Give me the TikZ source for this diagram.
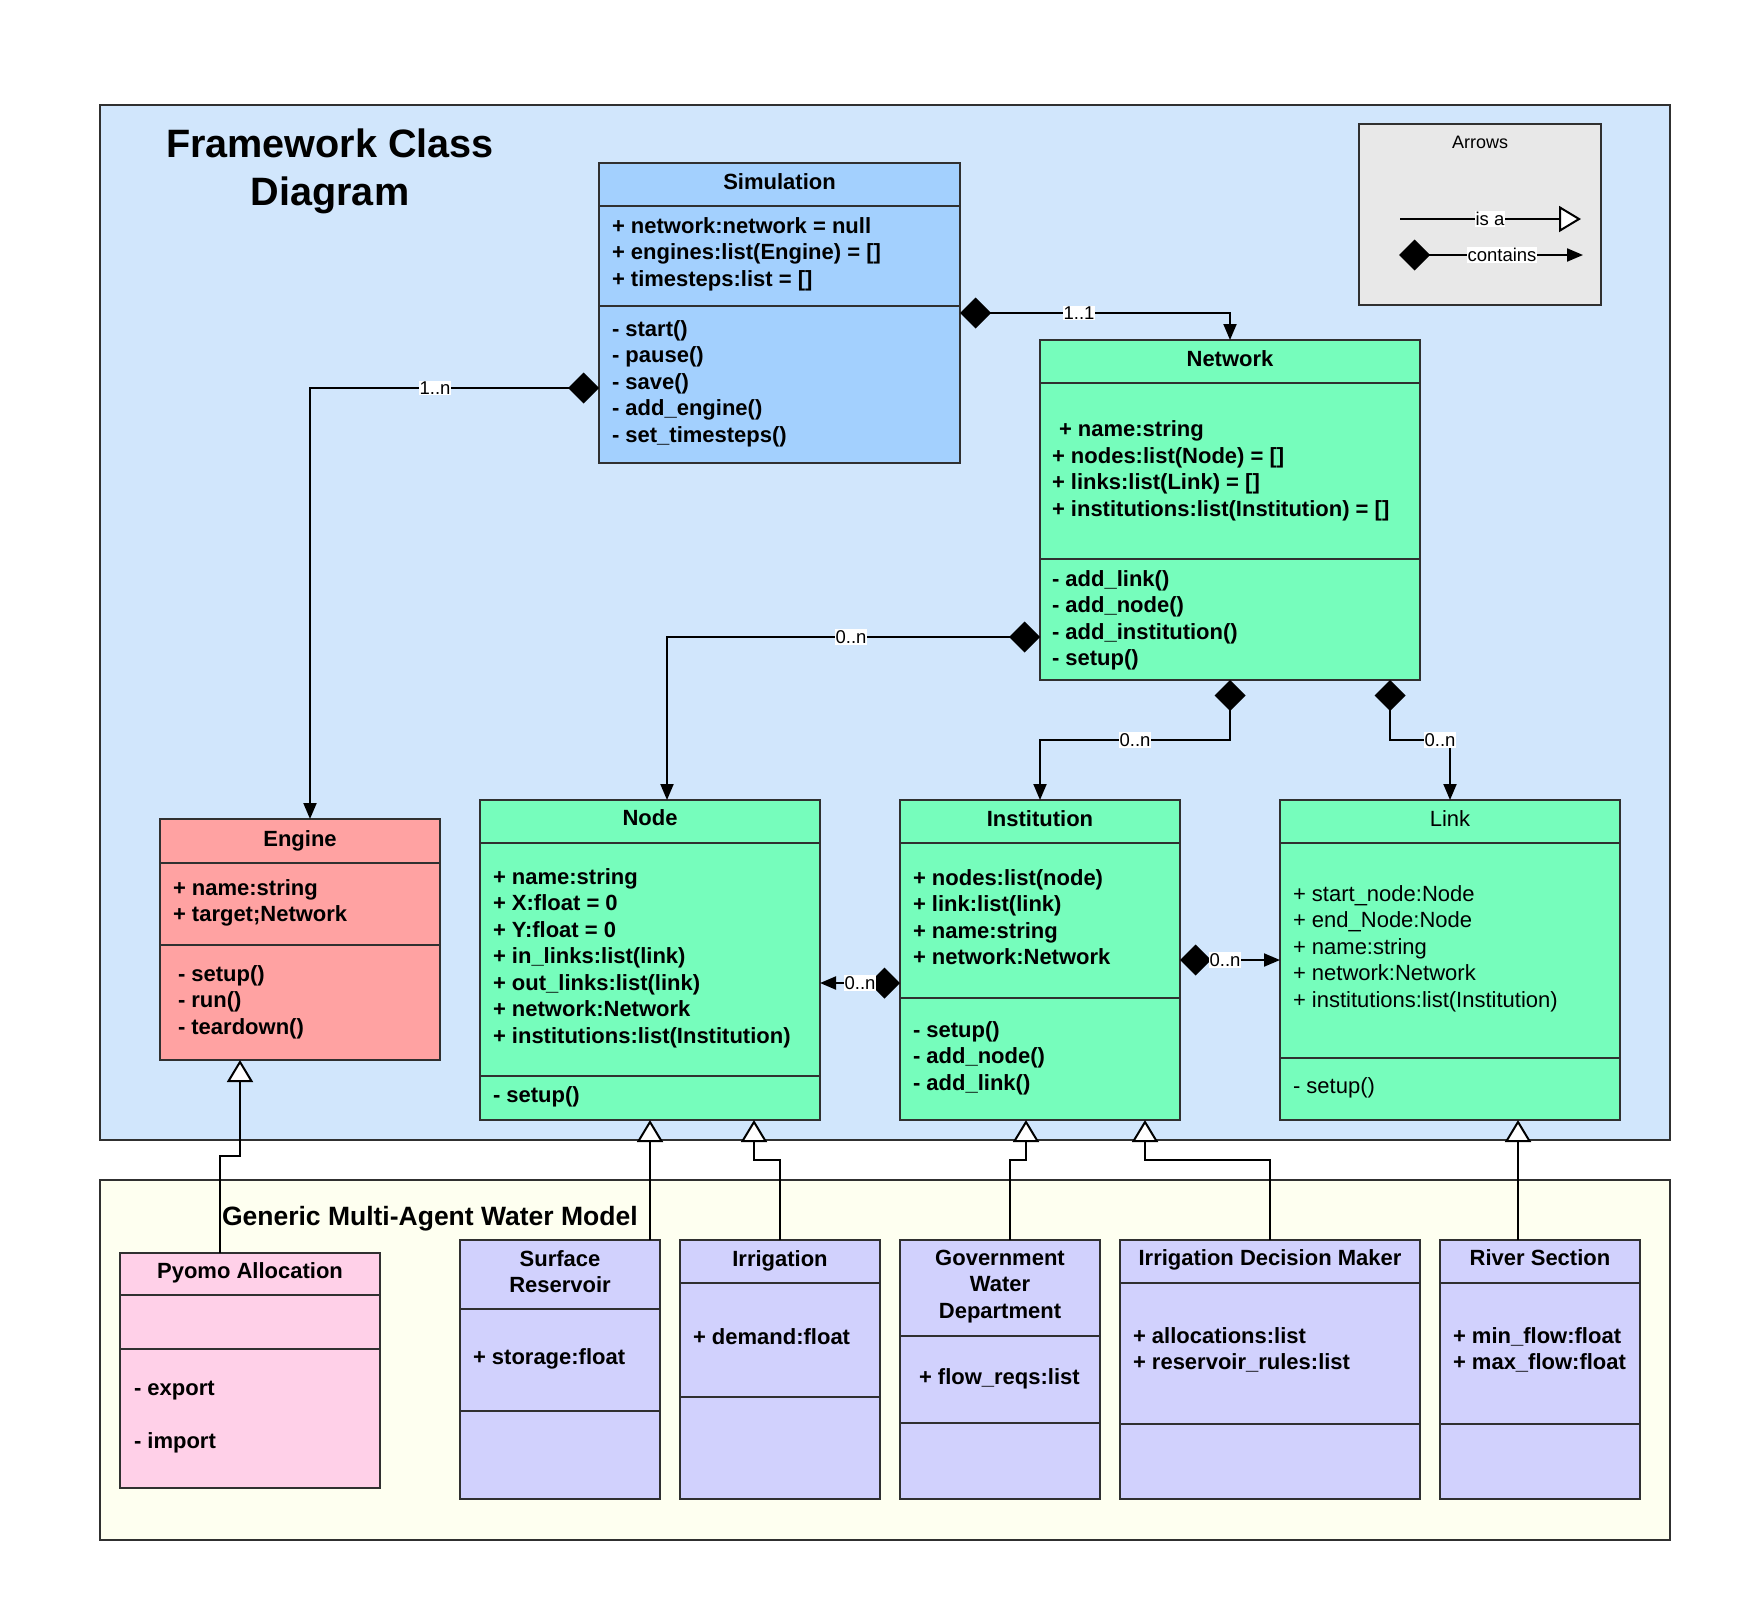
\documentclass[tikz,border=0pt]{standalone}
\usepackage{fontspec}
\setmainfont{Liberation Sans}
\usetikzlibrary{arrows.meta}
\definecolor{bluebg}{HTML}{D1E6FC}
\definecolor{yelbg}{HTML}{FEFFF0}
\definecolor{simc}{HTML}{A3D0FE}
\definecolor{grn}{HTML}{76FDBC}
\definecolor{engc}{HTML}{FFA2A2}
\definecolor{pyoc}{HTML}{FFD0E8}
\definecolor{subc}{HTML}{D1D1FD}
\definecolor{legc}{HTML}{E8E8E8}
\definecolor{bd}{HTML}{303030}
\newcommand\tlines[5]{%
  \foreach \t [count=\i] in {#5}
    \node[#2, anchor=base west] (#1-\i) at (#3, {#4+26.5*(\i-1)}) {\t};}
\newcommand\clines[5]{%
  \foreach \t [count=\i] in {#5}
    \node[#2, anchor=base] (#1-\i) at (#3, {#4+26.5*(\i-1)}) {\t};}
\begin{document}
\begin{tikzpicture}[x=1pt,y=-1pt,
  box/.style={draw=bd, line width=2.5pt, anchor=north west, inner sep=0pt, outer sep=0pt},
  sep/.style={draw=bd, line width=2.5pt},
  txt/.style={inner sep=0pt, outer sep=0pt, font=\fontsize{22}{27}\selectfont\bfseries},
  rtxt/.style={inner sep=0pt, outer sep=0pt, font=\fontsize{22}{27}\selectfont},
  lbl/.style={fill=white, inner sep=1pt, font=\fontsize{18.5}{20}\selectfont},
  conn/.style={line width=2pt, draw=black},
  comp/.style={conn, {Diamond[length=31pt,width=31pt]}-{Triangle[length=16pt,width=13pt]}},
  isa/.style={conn, -{Triangle[length=22pt,width=26pt,fill=white]}},
]
\useasboundingbox (0,0) rectangle (1760,1620);
\fill[white] (0,0) rectangle (1760,1620);

% containers
\node[box, fill=bluebg, minimum width=1570pt, minimum height=1035pt] (frame) at (100,105) {};
\node[box, fill=yelbg, minimum width=1570pt, minimum height=360pt] (model) at (100,1180) {};

% titles
\node[txt, font=\fontsize{39.6}{48}\selectfont\bfseries, anchor=base] (title-a) at (330,157) {Framework Class};
\node[txt, font=\fontsize{39.6}{48}\selectfont\bfseries, anchor=base] (title-b) at (330,205) {Diagram};
\node[txt, font=\fontsize{26.5}{30}\selectfont\bfseries, anchor=base west] (gtitle) at (222,1225) {Generic Multi-Agent Water Model};

% legend
\node[box, fill=legc, minimum width=242pt, minimum height=181pt] (leg) at (1359,124) {};
\node[inner sep=0pt, font=\fontsize{18}{20}\selectfont, anchor=base] (legt) at (1480,148) {Arrows};

% Simulation
\node[box, fill=simc, minimum width=361pt, minimum height=300pt] (sim) at (599,163) {};
\draw[sep] (599,206) -- (960,206);
\draw[sep] (599,306) -- (960,306);
\node[txt, anchor=base] (sim-h) at (779.5,189) {Simulation};
\tlines{sima}{txt}{612}{233}{{+ network:network = null},{+ engines:list(Engine) = []},{+ timesteps:list = []}}
\tlines{simm}{txt}{612}{336}{{- start()},{- pause()},{- save()},{- add\_engine()},{- set\_timesteps()}}

% Network
\node[box, fill=grn, minimum width=380pt, minimum height=340pt] (net) at (1040,340) {};
\draw[sep] (1040,383) -- (1420,383);
\draw[sep] (1040,559) -- (1420,559);
\node[txt, anchor=base] (net-h) at (1230,366) {Network};
\node[txt, anchor=base west] (neta-0) at (1059,436) {+ name:string};
\tlines{neta}{txt}{1052}{463}{{+ nodes:list(Node) = []},{+ links:list(Link) = []},{+ institutions:list(Institution) = []}}
\tlines{netm}{txt}{1052}{586}{{- add\_link()},{- add\_node()},{- add\_institution()},{- setup()}}

% Engine
\node[box, fill=engc, minimum width=280pt, minimum height=241pt] (eng) at (160,819) {};
\draw[sep] (160,863) -- (440,863);
\draw[sep] (160,945) -- (440,945);
\node[txt, anchor=base] (eng-h) at (300,846) {Engine};
\tlines{enga}{txt}{173}{895}{{+ name:string},{+ target;Network}}
\tlines{engm}{txt}{178}{981}{{- setup()},{- run()},{- teardown()}}

% Node
\node[box, fill=grn, minimum width=340pt, minimum height=320pt] (node) at (480,800) {};
\draw[sep] (480,843) -- (820,843);
\draw[sep] (480,1076) -- (820,1076);
\node[txt, anchor=base] (node-h) at (650,825) {Node};
\tlines{nodea}{txt}{493}{884}{{+ name:string},{+ X:float = 0},{+ Y:float = 0},{+ in\_links:list(link)},{+ out\_links:list(link)},{+ network:Network},{+ institutions:list(Institution)}}
\node[txt, anchor=base west] (nodem-1) at (493,1102) {- setup()};

% Institution
\node[box, fill=grn, minimum width=280pt, minimum height=320pt] (inst) at (900,800) {};
\draw[sep] (900,843) -- (1180,843);
\draw[sep] (900,998) -- (1180,998);
\node[txt, anchor=base] (inst-h) at (1040,826) {Institution};
\tlines{insta}{txt}{913}{885}{{+ nodes:list(node)},{+ link:list(link)},{+ name:string},{+ network:Network}}
\tlines{instm}{txt}{913}{1037}{{- setup()},{- add\_node()},{- add\_link()}}

% Link
\node[box, fill=grn, minimum width=340pt, minimum height=320pt] (link) at (1280,800) {};
\draw[sep] (1280,843) -- (1620,843);
\draw[sep] (1280,1058) -- (1620,1058);
\node[rtxt, anchor=base] (link-h) at (1450,826) {Link};
\tlines{linka}{rtxt}{1293}{901}{{+ start\_node:Node},{+ end\_Node:Node},{+ name:string},{+ network:Network},{+ institutions:list(Institution)}}
\node[rtxt, anchor=base west] (linkm-1) at (1293,1093) {- setup()};

% Pyomo Allocation
\node[box, fill=pyoc, minimum width=260pt, minimum height=235pt] (pyo) at (120,1253) {};
\draw[sep] (120,1295) -- (380,1295);
\draw[sep] (120,1349) -- (380,1349);
\node[txt, anchor=base] (pyo-h) at (250,1278) {Pyomo Allocation};
\node[txt, anchor=base west] (pyom-1) at (134,1395) {- export};
\node[txt, anchor=base west] (pyom-2) at (134,1448) {- import};

% Surface Reservoir
\node[box, fill=subc, minimum width=200pt, minimum height=259pt] (sr) at (460,1240) {};
\draw[sep] (460,1309) -- (660,1309);
\draw[sep] (460,1411) -- (660,1411);
\clines{srh}{txt}{560}{1266}{{Surface},{Reservoir}}
\node[txt, anchor=base west] (sra-1) at (473,1364) {+ storage:float};

% Irrigation
\node[box, fill=subc, minimum width=200pt, minimum height=259pt] (irr) at (680,1240) {};
\draw[sep] (680,1283) -- (880,1283);
\draw[sep] (680,1397) -- (880,1397);
\node[txt, anchor=base] (irr-h) at (780,1266) {Irrigation};
\node[txt, anchor=base west] (irra-1) at (693,1344) {+ demand:float};

% Government Water Department
\node[box, fill=subc, minimum width=200pt, minimum height=259pt] (gov) at (900,1240) {};
\draw[sep] (900,1336) -- (1100,1336);
\draw[sep] (900,1423) -- (1100,1423);
\clines{govh}{txt}{1000}{1265}{{Government},{Water},{Department}}
\node[txt, anchor=base west] (gova-1) at (919,1384) {+ flow\_reqs:list};

% Irrigation Decision Maker
\node[box, fill=subc, minimum width=300pt, minimum height=259pt] (idm) at (1120,1240) {};
\draw[sep] (1120,1283) -- (1420,1283);
\draw[sep] (1120,1424) -- (1420,1424);
\node[txt, anchor=base] (idm-h) at (1270,1265) {Irrigation Decision Maker};
\tlines{idma}{txt}{1133}{1343}{{+ allocations:list},{+ reservoir\_rules:list}}

% River Section
\node[box, fill=subc, minimum width=200pt, minimum height=259pt] (riv) at (1440,1240) {};
\draw[sep] (1440,1283) -- (1640,1283);
\draw[sep] (1440,1424) -- (1640,1424);
\node[txt, anchor=base] (riv-h) at (1540,1265) {River Section};
\tlines{riva}{txt}{1453}{1343}{{+ min\_flow:float},{+ max\_flow:float}}

% composition connectors
\coordinate (k1) at (1230,313);
\draw[comp] (sim.east |- k1) -- (k1) -- (net.north);
\node[lbl] (l1) at (1079,313) {1..1};

\coordinate (k2) at (310,388);
\draw[comp] (sim.west |- k2) -- (k2) -- (eng.north -| k2);
\node[lbl] (l2) at (435,388) {1..n};

\coordinate (k3) at (667,637);
\draw[comp] (net.west |- k3) -- (k3) -- (node.north -| k3);
\node[lbl] (l3) at (851,637) {0..n};

\coordinate (k4a) at (1230,740);
\coordinate (k4b) at (1040,740);
\draw[comp] (net.south -| k4a) -- (k4a) -- (k4b) -- (inst.north);
\node[lbl] (l4) at (1135,740) {0..n};

\coordinate (k5a) at (1390,740);
\coordinate (k5b) at (1450,740);
\draw[comp] (net.south -| k5a) -- (k5a) -- (k5b) -- (link.north);
\node[lbl] (l5) at (1440,740) {0..n};

\coordinate (k6) at (860,983);
\draw[comp] (inst.west |- k6) -- (node.east |- k6);
\node[lbl] (l6) at (860,983) {0..n};

\coordinate (k7) at (1225,960);
\draw[comp] (inst.east |- k7) -- (link.west |- k7);
\node[lbl] (l7) at (1225,960) {0..n};

% inheritance connectors
\coordinate (h1a) at (220,1156);
\coordinate (h1b) at (240,1156);
\draw[isa] (pyo.north -| h1a) -- (h1a) -- (h1b) -- (eng.south -| h1b);

\coordinate (h2) at (650,1160);
\draw[isa] (sr.north -| h2) -- (node.south -| h2);

\coordinate (h3a) at (780,1160);
\coordinate (h3b) at (754,1160);
\draw[isa] (irr.north -| h3a) -- (h3a) -- (h3b) -- (node.south -| h3b);

\coordinate (h4a) at (1010,1160);
\coordinate (h4b) at (1026,1160);
\draw[isa] (gov.north -| h4a) -- (h4a) -- (h4b) -- (inst.south -| h4b);

\coordinate (h5a) at (1270,1160);
\coordinate (h5b) at (1145,1160);
\draw[isa] (idm.north -| h5a) -- (h5a) -- (h5b) -- (inst.south -| h5b);

\coordinate (h6) at (1518,1160);
\draw[isa] (riv.north -| h6) -- (link.south -| h6);

% legend arrows
\coordinate (la1) at (1400,219);
\coordinate (la2) at (1581,219);
\draw[isa] (la1) -- (la2);
\node[lbl] (lla) at (1490,219) {is a};
\coordinate (lb1) at (1399,255);
\coordinate (lb2) at (1583,255);
\draw[comp] (lb1) -- (lb2);
\node[lbl] (llb) at (1502,255) {contains};
\end{tikzpicture}
\end{document}
